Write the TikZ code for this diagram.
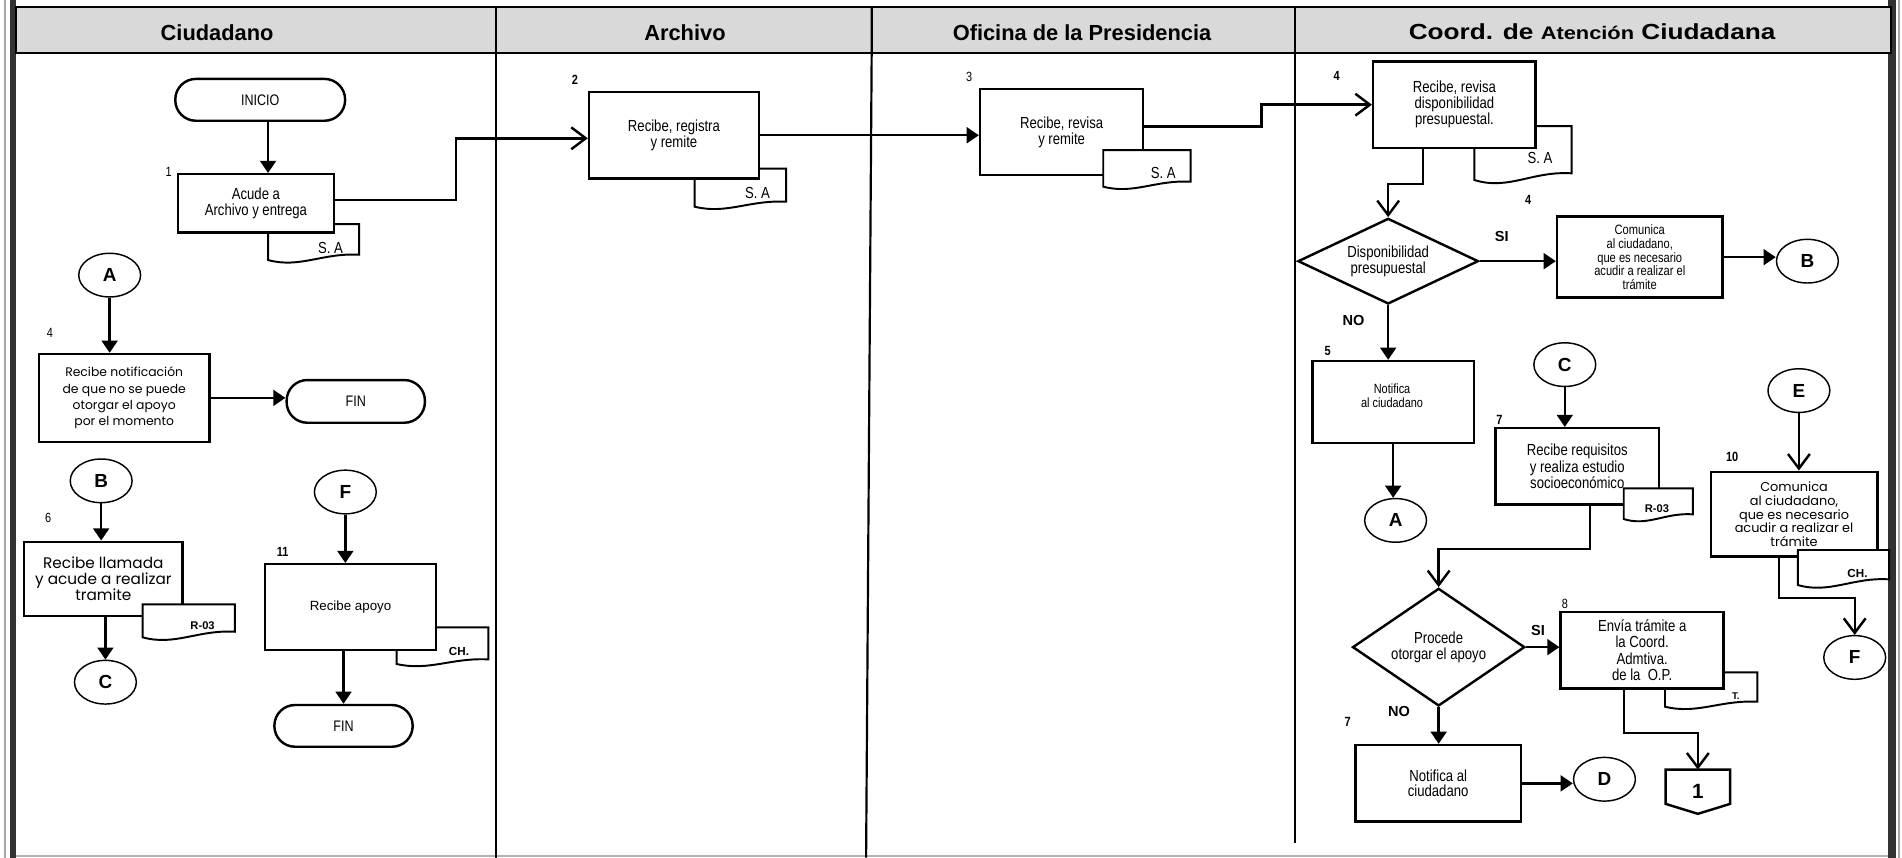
\documentclass[tikz,border=0pt]{standalone}
\usepackage{fontspec}
\setmainfont{Liberation Sans}
\newfontfamily\nar[FakeStretch=0.82]{Liberation Sans}
\newfontfamily\goth{Poppins}
\usepackage{graphicx}
\usetikzlibrary{shapes.geometric, arrows.meta}
\definecolor{hdrgray}{HTML}{D9D9D9}
\definecolor{framedark}{HTML}{333333}
\newcommand\fs[2]{\fontsize{#1}{#2}\selectfont}
% document shape: x1, x2, ytop, y right bottom, y left bottom
\newcommand\docsh[5]{%
  \draw[docline] (#1,#3) -- (#2,#3) -- (#2,#4)
    .. controls ({#1+0.6*(#2-#1)},{#4-0.4*(#5-#4)}) and ({#1+0.35*(#2-#1)},{#5+1.6*(#5-#4)}) .. (#1,#5) -- cycle;}

\tikzset{
  lane/.style={line width=0.9pt},
  box/.style={draw, line width=1pt, fill=white, align=center, inner sep=0pt, font=\nar\fs{6.6}{6.6}},
  term/.style={draw, line width=1pt, fill=white, rounded corners=8.5pt, inner sep=0pt, font=\nar\fs{6.3}{6.3}},
  conn/.style={draw, ellipse, line width=0.6pt, fill=white, minimum width=25.5pt, minimum height=18pt, inner sep=0pt, font=\bfseries\fs{7.8}{7.8}},
  dec/.style={draw, diamond, line width=1pt, fill=white, inner sep=0pt, align=center, font=\nar\fs{6.6}{6.5}},
  docline/.style={draw, fill=white, line width=0.8pt},
  arr/.style={line width=1pt, -{Triangle[length=5pt,width=6.5pt]}},
  oarr/.style={line width=1pt, -{Straight Barb[length=6pt,width=9pt]}},
  num/.style={font=\nar\fs{5.5}{5.5}},
  bnum/.style={font=\nar\bfseries\fs{5.5}{5.5}},
  yn/.style={font=\bfseries\fs{6}{6}},
  hdr/.style={font=\bfseries\fs{9}{9}, anchor=base},
  sa/.style={font=\nar\fs{6.6}{6.6}},
  dlb/.style={font=\bfseries\fs{4.6}{4.6}},
}

\begin{document}
\begin{tikzpicture}[x=0.5pt,y=-0.5pt]
\useasboundingbox (0,0) rectangle (1568,707);
\fill[white] (0,0) rectangle (1568,707);
% frame
\draw[gray!70, line width=0.8pt] (4.1,0) -- (4.1,707);
\fill[framedark] (8.2,0) rectangle (13.2,707);
\fill[framedark] (1556.5,0) rectangle (1563,707);
\draw[gray!70, line width=0.8pt] (1565.7,0) -- (1565.7,707);
\draw[gray!60, line width=0.8pt] (13.2,705.8) -- (1556.5,705.8);
% header and lanes
\draw[fill=hdrgray, line width=1pt] (13.2,5.8) rectangle (1558.7,43.7);
\draw[lane] (409.2,5.8) -- (409.2,707);
\draw[lane] (718.6,5.8) -- (718.6,43.7) -- (714,707);
\draw[lane] (1067.4,5.8) -- (1067.4,695);
\node[hdr] (h1) at (179,33) {Ciudadano};
\node[hdr] (h2) at (564.7,33) {Archivo};
\node[hdr] (h3) at (892,33) {Oficina de la Presidencia};
\node[hdr] (h4) at (1312.5,32.4) {\scalebox{1.2}[1]{Coord. de {\fs{7.5}{7.5}Atención} Ciudadana}};

% documents behind boxes
\docsh{221}{296}{184.7}{210}{214.4}
\node[sa] (sa1) at (272.4,204.7) {S. A};
\docsh{572.7}{648}{139}{166.3}{170.4}
\node[sa] (sa2) at (624.5,159.4) {S. A};
\docsh{1215.5}{1295.7}{103.9}{142.9}{148.4}
\node[sa] (sa4) at (1269.6,130.5) {S. A};
\docsh{327}{402.6}{517.2}{543.6}{547.4}
\node[dlb, font=\bfseries\fs{4.8}{4.8}] (ch1) at (378.4,537.2) {CH.};
\docsh{1372.6}{1448.8}{554.3}{578.5}{582.6}
\node[dlb, font=\bfseries\fs{4}{4}] (tt) at (1431,574) {T.};

% Ciudadano lane
\node[term, minimum width=70pt, minimum height=17.25pt] (inicio) at (214.5,82.3) {INICIO};
\node[box, minimum width=64.25pt, minimum height=24pt] (b1) at (211,167.6) {Acude a\\Archivo y entrega};
\node[conn] (Aci) at (90.4,226.8) {A};
\node[box, minimum width=70.2pt, minimum height=36.15pt, font=\goth\fs{5.1}{6.65}] (b4) at (102.4,328) {Recibe notificación\\de que no se puede\\otorgar el apoyo\\por el momento};
\node[term, minimum width=57pt, minimum height=17.6pt] (fin1) at (293.3,330.9) {FIN};
\node[conn] (Bci) at (83.4,396.4) {B};
\node[box, minimum width=65.4pt, minimum height=30.6pt, font=\goth\fs{6.3}{6.6}] (b6) at (85.2,477.2) {Recibe llamada\\y acude a realizar\\tramite};
\node[conn] (Cci) at (86.9,562.4) {C};
\node[conn] (Fci) at (284.7,405.6) {F};
\node[box, minimum width=70.45pt, minimum height=35.35pt, font=\fs{5.5}{5.5}] (b11) at (289,500.5) {Recibe apoyo};
\node[term, minimum width=57pt, minimum height=17.2pt] (fin2) at (283.2,598.4) {FIN};

% Archivo / Oficina
\node[box, minimum width=70pt, minimum height=35.5pt] (b2) at (555.6,111.5) {Recibe, registra\\y remite};
\node[box, minimum width=67.25pt, minimum height=35.5pt] (b3) at (875.2,108.9) {Recibe, revisa\\y remite};

% Coord lane
\node[box, minimum width=67pt, minimum height=35.5pt] (b4c) at (1199,86.3) {Recibe, revisa\\disponibilidad\\presupuestal.};
\node[dec, shape aspect=2.1, minimum width=74.4pt, minimum height=35.3pt] (d1) at (1144.4,215.3) {Disponibilidad\\presupuestal};
\node[box, minimum width=68.2pt, minimum height=33.4pt, font=\nar\fs{5.6}{5.6}] (bcom) at (1351.8,212) {Comunica\\al ciudadano,\\que es necesario\\acudir a realizar el\\trámite};
\node[conn] (Bc) at (1490,215.3) {B};
\node[box, minimum width=66.5pt, minimum height=33.7pt] (b5) at (1148.5,331.3) {};
\node[font=\nar\fs{5.5}{5.65}, align=center] (t5) at (1147.6,326) {Notifica\\al ciudadano};
\node[conn] (Ac) at (1150.5,429) {A};
\node[conn] (Cc) at (1290,300.6) {C};
\node[box, minimum width=67.4pt, minimum height=31.4pt, font=\nar\fs{6.6}{6.7}] (b7) at (1300.3,384.4) {Recibe requisitos\\y realiza estudio\\socioeconómico};
\node[dec, shape aspect=1.46, minimum width=71pt, minimum height=48.5pt] (d2) at (1186,533.5) {Procede\\otorgar el apoyo};
\node[box, minimum width=67.2pt, minimum height=31.35pt, font=\nar\fs{6.6}{6.75}] (b8) at (1353.8,536.1) {Envía trámite a\\la Coord.\\Admtiva.\\de la\ \ O.P.};
\node[inner sep=0pt, minimum width=26.2pt, minimum height=17.85pt, font=\bfseries\fs{8.5}{8.5}] (off1) at (1399.7,652.65) {1};
\draw[line width=1pt] (off1.north west) -- (off1.north east) -- ([yshift=4.1pt]off1.south east) -- (off1.south) -- ([yshift=4.1pt]off1.south west) -- cycle;
\node[box, minimum width=68.2pt, minimum height=31.6pt, font=\nar\fs{6.6}{6.2}] (b7b) at (1185.6,645.8) {Notifica al\\ciudadano};
\node[conn] (Dc) at (1322.7,642.4) {D};
\node[conn] (Ec) at (1483,322) {E};
\node[box, minimum width=68.7pt, minimum height=35pt, font=\goth\fs{5.3}{5.6}] (b10) at (1479,423.9) {Comunica\\al ciudadano,\\que es necesario\\acudir a realizar el\\trámite};
\node[conn] (Fc) at (1529,542) {F};

% documents on top of boxes
\docsh{909.5}{981.5}{123.7}{149.8}{153.9}
\node[sa] (sa3) at (959,143) {S. A};
\docsh{117.6}{193.7}{498.2}{520.8}{525.4}
\node[dlb] (r1) at (167,516) {R-03};
\docsh{1338.6}{1395.5}{402.6}{424}{427.9}
\node[dlb] (r2) at (1366,419) {R-03};
\docsh{1482.2}{1557.3}{453.4}{477.6}{482.3}
\node[dlb, font=\bfseries\fs{4.8}{4.8}] (ch2) at (1531.3,472.7) {CH.};

% connectors
\draw[arr] ([xshift=3.25pt]inicio.south) -- ([xshift=5pt]b1.north);
\draw[oarr] ([yshift=1.3pt]b1.east) -| (376,140) |- ([yshift=-1.25pt]b2.west);
\draw[arr] (b2.east) -- (b2.east -| b3.west);
\draw[oarr] ([yshift=2.25pt]b3.east) -| (1040,95) |- (b4c.west);
\draw[oarr] ([xshift=-13pt]b4c.south) -- ++(0,29) -| (d1.north);
\draw[arr] (d1.east) -- (d1.east -| bcom.west);
\draw[arr] (bcom.east) -- (bcom.east -| Bc.west);
\draw[arr] (d1.south) -- (d1.south |- b5.north);
\draw[arr] (b5.south) -- (b5.south |- Ac.north);
\draw[arr] (Cc.south) -- (Cc.south |- b7.north);
\draw[oarr] ([xshift=5.35pt]b7.south) -- ++(0,35.7) -| (d2.north);
\draw[arr] (d2.east) -- (d2.east -| b8.west);
\draw[oarr] ([xshift=-7.45pt]b8.south) -- ++(0,35.7) -| (off1.north);
\draw[arr] (d2.south) -- (d2.south |- b7b.north);
\draw[arr] (b7b.east) -- (b7b.east -| Dc.west);
\draw[oarr] (Ec.south) -- (Ec.south |- b10.north);
\draw[oarr] ([xshift=-6.3pt]b10.south) -- ++(0,33) -| (Fc.north);
\draw[arr] (Aci.south) -- (Aci.south |- b4.north);
\draw[arr] (b4.east) -- (b4.east -| fin1.west);
\draw[arr] (Bci.south) -- (Bci.south |- b6.north);
\draw[arr] (Cci.north |- b6.south) -- (Cci.north);
\draw[arr] (Fci.south) -- (Fci.south |- b11.north);
\draw[arr] (fin2.north |- b11.south) -- (fin2.north);

% step numbers and labels
\node[num] (n1) at (139,141.5) {1};
\node[bnum] (n2) at (474,66) {2};
\node[num] (n3) at (799,63) {3};
\node[bnum] (n4a) at (1102,62.7) {4};
\node[bnum] (n4b) at (1259.7,164.9) {4};
\node[yn] (si1) at (1238,195) {SI};
\node[yn] (no1) at (1115.8,263.8) {NO};
\node[bnum] (n5) at (1094.5,289) {5};
\node[bnum] (n7a) at (1236,346) {7};
\node[bnum] (n10) at (1428,376.5) {10};
\node[num] (n8) at (1290,498) {8};
\node[yn] (si2) at (1268,519.4) {SI};
\node[yn] (no2) at (1153.4,586.2) {NO};
\node[bnum] (n7b) at (1110.9,595) {7};
\node[num] (n4c) at (41.2,274.8) {4};
\node[num] (n6) at (39.8,427.3) {6};
\node[bnum] (n11) at (233,454.8) {11};
\end{tikzpicture}
\end{document}
